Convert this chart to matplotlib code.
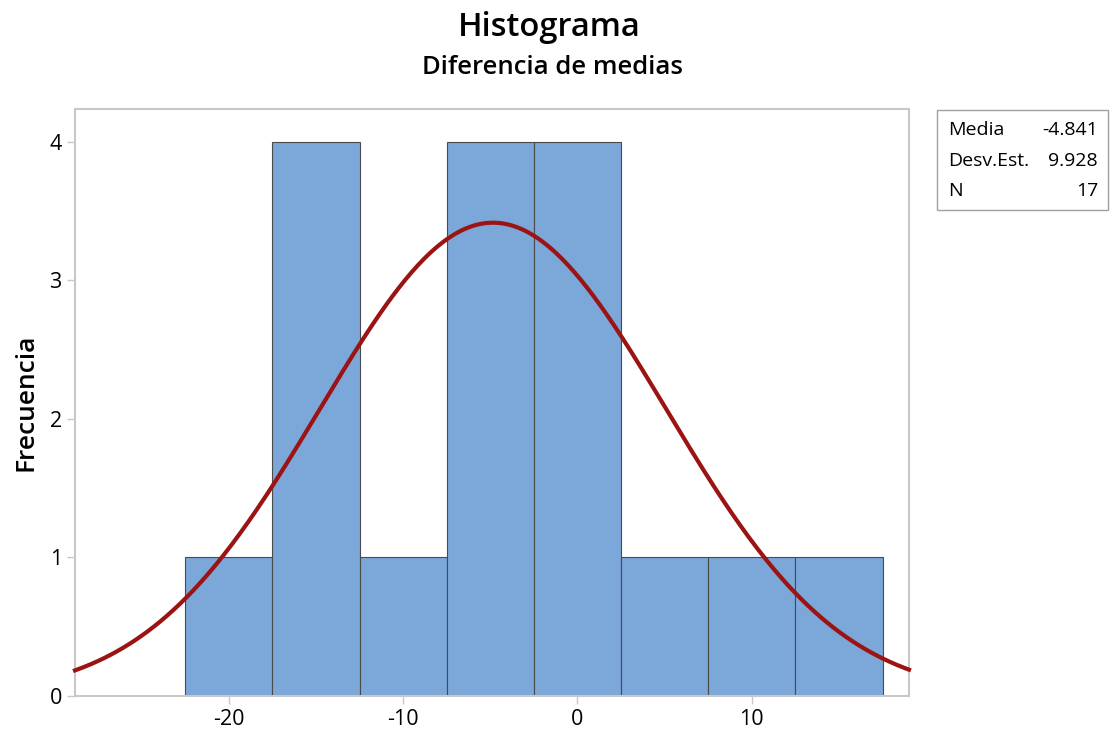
import numpy as np
import matplotlib
matplotlib.use("Agg")
import matplotlib.pyplot as plt
from matplotlib.patches import Rectangle

plt.rcParams['font.family'] = ['Open Sans', 'DejaVu Sans']
plt.rcParams['axes.unicode_minus'] = False

bin_centers = [-20, -15, -10, -5, 0, 5, 10, 15]
counts = [1, 4, 1, 4, 4, 1, 1, 1]
bin_width = 5
media = -4.841
desv = 9.928
n = 17
xticks = [-20, -10, 0, 10]
yticks = [0, 1, 2, 3, 4]

fig = plt.figure(figsize=(11.1, 7.4), dpi=100)
ax = fig.add_axes([75/1110, 1-696/740, (909-75)/1110, (696-109)/740])

ax.bar(bin_centers, counts, width=bin_width, color='#7ba7d9', edgecolor='#4a4a4a', linewidth=0.8, zorder=2)

xs = np.linspace(-28.82, 19.02, 400)
ys = n * bin_width / (desv * np.sqrt(2*np.pi)) * np.exp(-0.5*((xs-media)/desv)**2)
ax.plot(xs, ys, color='#9b1313', linewidth=3, zorder=3, clip_on=False)

ax.set_xlim(-28.82, 19.02)
ax.set_ylim(0, 4.236)
ax.set_xticks(xticks)
ax.set_yticks(yticks)
for s in ax.spines.values():
    s.set_color('#c8c8c8')
    s.set_linewidth(1.5)
ax.tick_params(axis='both', colors='#c8c8c8', labelcolor='black', labelsize=15.5, length=6, width=1)
for lbl in ax.get_xticklabels() + ax.get_yticklabels():
    lbl.set_fontweight('medium')
ax.set_ylabel('Frecuencia', fontsize=19, fontweight='semibold', labelpad=8)

fig.text(0.495, 1-27/740, 'Histograma', ha='center', va='center', fontsize=23.5, fontweight='semibold')
fig.text(0.498, 1-68/740, 'Diferencia de medias', ha='center', va='center', fontsize=18.5, fontweight='semibold')

# stats box
box = Rectangle((937/1110, 1-210/740), (1108-937)/1110, 100/740, transform=fig.transFigure,
                fill=False, edgecolor='#a0a0a0', linewidth=1)
fig.add_artist(box)
labels = ['Media', 'Desv.Est.', 'N']
vals = [f'{media:.3f}', f'{desv:.3f}', f'{n}']
rows_y = [130, 161, 191]
for lab, v, yy in zip(labels, vals, rows_y):
    fig.text(948/1110, 1-yy/740, lab, ha='left', va='center', fontsize=14, fontweight='medium')
    fig.text(1098/1110, 1-yy/740, v, ha='right', va='center', fontsize=14, fontweight='medium')

fig.savefig('out.png', dpi=100, facecolor='white')
